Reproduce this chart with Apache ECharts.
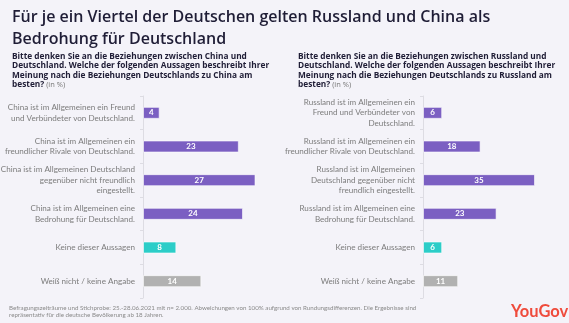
<!DOCTYPE html>
<html><head><meta charset="utf-8">
<script src="https://cdn.jsdelivr.net/npm/echarts@6/dist/echarts.min.js"></script>
<style>html,body{margin:0;padding:0;background:#f4f3f9;}#c{width:569px;height:323px;}</style>
</head><body><div id="c"></div>
<script>
const chinaCategories = [
  "China ist im Allgemeinen ein Freund\nund Verbündeter von Deutschland.",
  "China ist im Allgemeinen ein\nfreundlicher Rivale von Deutschland.",
  "China ist im Allgemeinen Deutschland\ngegenüber nicht freundlich\neingestellt.",
  "China ist im Allgemeinen eine\nBedrohung für Deutschland.",
  "Keine dieser Aussagen",
  "Weiß nicht / keine Angabe"
];
const chinaValues = [4, 23, 27, 24, 8, 14];
const russiaCategories = [
  "Russland ist im Allgemeinen ein\nFreund und Verbündeter von\nDeutschland.",
  "Russland ist im Allgemeinen ein\nfreundlicher Rivale von Deutschland.",
  "Russland ist im Allgemeinen\nDeutschland gegenüber nicht\nfreundlich eingestellt.",
  "Russland ist im Allgemeinen eine\nBedrohung für Deutschland.",
  "Keine dieser Aussagen",
  "Weiß nicht / keine Angabe"
];
const russiaValues = [6, 18, 35, 23, 6, 11];
const barColors = ["#7b5fc2", "#7b5fc2", "#7b5fc2", "#7b5fc2", "#2ccdc8", "#b1b1b1"];

const titleText = "Für je ein Viertel der Deutschen gelten Russland und China als\nBedrohung für Deutschland";
const chinaQuestion = ["Bitte denken Sie an die Beziehungen zwischen China und", "Deutschland. Welche der folgenden Aussagen beschreibt Ihrer", "Meinung nach die Beziehungen Deutschlands zu China am", "besten?"];
const russiaQuestion = ["Bitte denken Sie an die Beziehungen zwischen Russland und", "Deutschland. Welche der folgenden Aussagen beschreibt Ihrer", "Meinung nach die Beziehungen Deutschlands zu Russland am", "besten?"];
const unitNote = "(in %)";
const footnote = "Befragungszeiträume und Stichprobe: 25.-28.06.2021 mit n= 2.000. Abweichungen von 100% aufgrund von Rundungsdifferenzen. Die Ergebnisse sind\nrepräsentativ für die deutsche Bevölkerung ab 18 Jahren.";

const FONT = "Lato";
const TFONT = "Open Sans";
const chart = echarts.init(document.getElementById('c'), null, {renderer: 'canvas'});

function yAx(idx, cats) {
  return {
    type: 'category', gridIndex: idx, data: cats, inverse: true,
    axisLine: {lineStyle: {color: '#dddce3', width: 1}},
    axisTick: {show: true, length: 3, lineStyle: {color: '#dddce3'}},
    axisLabel: {color: '#7c7c7c', fontFamily: FONT, fontSize: 8.1, lineHeight: 10.5, margin: 8, align: 'right'}
  };
}
function xAx(idx, max) {
  return {type: 'value', gridIndex: idx, min: 0, max: max, show: false, splitLine: {show: false}};
}
function ser(idx, vals) {
  return {
    type: 'bar', xAxisIndex: idx, yAxisIndex: idx, barWidth: 12,
    data: vals.map((v, i) => ({value: v, itemStyle: {color: barColors[i]}})),
    itemStyle: {borderColor: 'rgba(255,255,255,0.6)', borderWidth: 1},
    label: {show: true, position: 'inside', color: '#ffffff', fontFamily: FONT, fontWeight: 'bold', fontSize: 8},
    silent: true, animation: false
  };
}
function q(lines) {
  const parts = lines.map(l => '{b|' + l + '}');
  parts[parts.length - 1] += '{n| ' + unitNote + '}';
  return parts.join('\n');
}
const qRich = {
  b: {fontFamily: TFONT, fontSize: 8.3, fontWeight: 'bold', color: '#1f1d36', lineHeight: 9.4},
  n: {fontFamily: TFONT, fontSize: 7.5, fontWeight: 'normal', color: '#777777', lineHeight: 9.4}
};

chart.setOption({
  backgroundColor: '#f4f3f9',
  animation: false,
  title: [
    {text: titleText, left: 7, top: 1, textStyle: {fontFamily: TFONT, fontSize: 16, fontWeight: 600, color: '#1f1d36', lineHeight: 22}},
    {text: q(chinaQuestion), left: 7, top: 47, textStyle: {rich: qRich}},
    {text: q(russiaQuestion), left: 293, top: 47, textStyle: {rich: qRich}},
    {text: footnote, left: 4, top: 300, textStyle: {fontFamily: FONT, fontSize: 6.2, fontWeight: 'normal', color: '#8a8a8a', lineHeight: 6.6}},
    {text: 'YouGov', left: 506, top: 298, textStyle: {fontFamily: FONT, fontSize: 16.5, fontWeight: 'bold', color: '#ef4b3c'}}
  ],
  grid: [
    {left: 143, top: 96, width: 125, height: 202, containLabel: false, outerBoundsMode: 'none'},
    {left: 423, top: 96, width: 128, height: 202, containLabel: false, outerBoundsMode: 'none'}
  ],
  xAxis: [xAx(0, 30), xAx(1, 40)],
  yAxis: [yAx(0, chinaCategories), yAx(1, russiaCategories)],
  series: [ser(0, chinaValues), ser(1, russiaValues)]
});
</script></body></html>
